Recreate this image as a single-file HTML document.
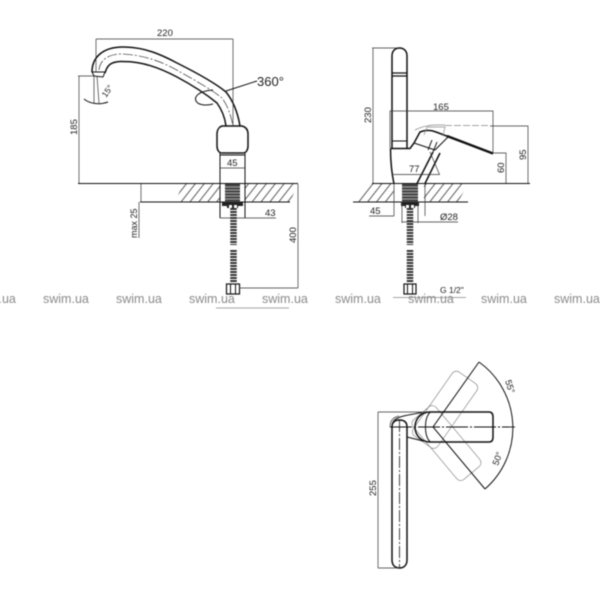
<!DOCTYPE html>
<html><head><meta charset="utf-8"><style>
html,body{margin:0;padding:0;background:#fff;width:600px;height:600px;overflow:hidden}
svg{display:block;filter:blur(0.45px)}
text{font-family:"Liberation Sans",sans-serif;fill:#222;font-size:9.5px}
.w{fill:#8a8a8a;font-size:12.5px}
.t{fill:none;stroke:#333;stroke-width:.7}
.k{fill:none;stroke:#111;stroke-width:1.5}
.m{fill:none;stroke:#111;stroke-width:1}
.g{fill:none;stroke:#888;stroke-width:.7}
.hose{fill:none;stroke:#333;stroke-width:6.5;stroke-dasharray:2 1}
</style></head><body>
<svg width="600" height="600" viewBox="0 0 600 600" xmlns="http://www.w3.org/2000/svg">
<defs>
<pattern id="hat" width="7" height="7" patternUnits="userSpaceOnUse" patternTransform="rotate(38)">
<line x1="1" y1="0" x2="1" y2="7" stroke="#333" stroke-width=".8"/>
</pattern>
</defs>

<!-- FRONT VIEW -->
<polygon points="183,184 298,184 290,202 175,202" fill="url(#hat)"/>
<polygon points="353,202 365,184 468,184 458,202" fill="url(#hat)"/>
<rect x="220" y="184" width="25" height="18" fill="#fff"/>
<rect x="394" y="184" width="30" height="18" fill="#fff"/>

<path class="k" d="M92,72 C92,58 102,47 123,47 C145,47 162,55 177,63 C195,72 214,82 226,92 C234,102 238,114 240,126"/>
<path class="k" d="M105,73 C107,66 110,62 120,61.500 C142,61 160,68 177,77 C192,85 206,94 217,103 C222,110 225,118 226,126"/>
<path class="t" stroke-dasharray="10 2 2 2" d="M99,70 C100,60 108,54 122,54 C146,55 165,63 182,73 C198,82 212,90 222,98 C228,106 231,116 233,126"/>
<path class="m" d="M92,72 L105,72 L103,77 L94,76 Z" stroke-width="1.3"/>
<path class="t" d="M96,39 V72 M233,39 V126"/>
<path class="t" d="M96,39 H233"/>
<text x="157" y="36">220</text>
<text x="257" y="86" style="font-size:13px">360°</text>
<path class="m" d="M226,91 L257,81"/>
<path class="m" d="M213,90 C198,91 194,97 196,101 C198,105 206,106 213,104"/>
<path class="t" d="M94,76 L94,103 M97,76 L99,103"/>
<path class="m" d="M84,99 C90,104 100,105 108,102"/>
<text x="0" y="0" transform="translate(106,98) rotate(-55)" style="font-size:8.500px">15°</text>

<path class="t" d="M78,76 H96 M79,76 V183"/>
<text transform="translate(77,135) rotate(-90)">185</text>

<path class="k" d="M222,126 H242 C246,127 248,130 248,134 V146 C248,150 246,153 243,153 H222 C219,153 217,150 217,146 V134 C217,130 219,127 222,126 Z"/>
<path class="m" d="M220,153 V184 M245,153 V184 M220,155 H245"/>
<path class="t" d="M220,168 H245"/>
<text x="227" y="166">45</text>

<path class="m" d="M78,183.500 H298" stroke-width="1.1"/>
<path class="m" d="M140,202 H290" stroke-width=".9"/>
<path class="t" d="M141,184 V202 M139,202 V238"/>
<text transform="translate(137,238) rotate(-90)" style="font-size:9px">max 25</text>

<path class="m" d="M220,184 V218 M245,184 V218"/>
<rect x="225" y="184" width="15" height="18" fill="#444"/>
<path stroke="#ccc" stroke-width=".8" d="M225,187 H240 M225,190 H240 M225,193 H240 M225,196 H240 M225,199 H240"/>
<rect x="222" y="202" width="21" height="4" fill="#222"/>
<rect x="227" y="204" width="11" height="4" fill="#222"/>
<rect x="229" y="205" width="3" height="3" fill="#fff"/><rect x="234" y="205" width="3" height="3" fill="#fff"/>
<path class="hose" d="M233.500,208 V245 M233.500,250 V283"/>
<path class="t" d="M220,218 H276"/>
<text x="265" y="216">43</text>
<rect x="226.500" y="284" width="13" height="10" fill="#fff" stroke="#111" stroke-width="1.2"/>
<path class="m" d="M230.500,284 V294 M235.500,284 V294"/>
<path class="t" d="M239,288 H298 M298,184 V288"/>
<text transform="translate(296,243) rotate(-90)">400</text>
<path class="g" d="M216,308 H289"/>

<!-- SIDE VIEW -->
<path class="k" d="M392,148 V56 C392,51 395,48 399.500,48 C404,48 407,51 407,56 V148"/>
<path d="M392,73 H407 M392.500,76 H406.500" stroke="#111" stroke-width="1.300" fill="none"/>
<path class="m" d="M392,141 H407"/>
<path class="t" d="M372,48 H398 M373,48 V184"/>
<text transform="translate(371,123) rotate(-90)">230</text>

<path class="k" d="M390.500,148.500 H410 L414,143 M390.500,148.500 C390.500,160 391.500,172 394,184"/>
<path class="k" d="M414,143 L420,132 C425,130 431,130 436,132 L493,153.500"/>
<path d="M447,136 L493,153.500" stroke="#111" stroke-width="2.400" fill="none"/>
<path class="m" d="M414,143 L435,150 L448,137"/>
<path class="k" d="M433,152 L417,183.500 M440,153 L425,183.500" stroke-width="1.300"/>
<path class="m" d="M432,140 L428,150 M437,142 L433,152"/>
<path class="g" d="M415,130 C421,127 428,125 436,125 H445"/>
<path class="g" stroke-dasharray="7 2" d="M445,125.500 H490"/>
<path class="g" d="M424,135 L427,127 H445 L443,136"/>

<path class="t" d="M390,148 V111 H493 V153"/>
<text x="433" y="110">165</text>
<path class="t" d="M490,126 H528 V184 M493,153 H506 V184"/>
<text transform="translate(526,160) rotate(-90)">95</text>
<text transform="translate(504,173) rotate(-90)">60</text>
<path class="t" d="M392,174.500 H439.500 L430,152"/>
<text x="409" y="172">77</text>

<path class="m" d="M372,183.500 H530" stroke-width="1.100"/>
<path class="m" d="M353,202 H468" stroke-width=".9"/>
<rect x="402" y="184" width="16" height="18" fill="#444"/>
<path stroke="#ccc" stroke-width=".8" d="M402,187 H418 M402,190 H418 M402,193 H418 M402,196 H418 M402,199 H418"/>
<rect x="401" y="202" width="18" height="4" fill="#222"/>
<rect x="405" y="204" width="10" height="4" fill="#222"/>
<rect x="406" y="205" width="3" height="3" fill="#fff"/><rect x="411" y="205" width="3" height="3" fill="#fff"/>
<path class="hose" d="M410,208 V245 M410,250 V283"/>
<path class="t" d="M394,184 V216 M425,184 V216 M369,216 H394"/>
<text x="370" y="214">45</text>
<path class="t" d="M402,202 V223 M418,202 V223 M402,222 H458"/>
<text x="440" y="220">Ø28</text>
<rect x="404" y="284" width="12" height="10" fill="#fff" stroke="#111" stroke-width="1.200"/>
<path class="m" d="M407.500,284 V294 M412.500,284 V294"/>
<text x="440" y="293" style="font-size:8.500px">G 1/2"</text>
<path class="g" d="M393,297.500 H466"/>

<!-- TOP VIEW -->
<g transform="translate(433,427)">
<g transform="rotate(-55)"><rect x="-18" y="-15" width="78" height="30" rx="5" fill="none" stroke="#777" stroke-width=".6"/></g>
<g transform="rotate(50)"><rect x="-18" y="-15" width="78" height="30" rx="5" fill="none" stroke="#777" stroke-width=".6"/></g>
</g>
<path class="m" d="M479,362 L433,427 L485,489" stroke-width="1.100"/>
<path class="m" d="M479,362 A81,81 0 0 1 485,489" stroke-width="1.100"/>
<path class="k" d="M430,412 H489 C492,412 493,414 493,417 V437 C493,440 492,442 489,442 H430 C421,442 415,435 415,427 C415,419 421,412 430,412 Z" stroke-width="1.600"/>
<path class="m" d="M430,412.500 C424,418 424,436 430,441.500"/>
<path class="m" d="M393,422 C396,417 402,416 422,412.500 M407,437 L423,441"/>
<path class="k" d="M392,427 C392,422 395,420 399.500,420 C404,420 407,422 407,427 V560 C407,565 404,568 399.500,568 C395,568 392,565 392,560 Z" stroke-width="1.600"/>
<path class="t" d="M390,427 C390,420 394,417 399,416"/>
<path stroke="#111" stroke-width=".8" fill="none" stroke-dasharray="12 2 2 2" d="M399.500,420 V568"/>
<path stroke="#111" stroke-width=".9" fill="none" stroke-dasharray="22 2 2 2" d="M390,427 H515"/>
<path class="t" d="M378,412 H425 M378,412 V568 M378,568 H400"/>
<text transform="translate(376,496) rotate(-90)">255</text>
<text transform="translate(505,381) rotate(72)" style="font-size:9px">55°</text>
<text transform="translate(498,466) rotate(-70)" style="font-size:9px">50°</text>

<!-- WATERMARK -->
<text class="w" x="-30" y="303">swim.ua</text>
<text class="w" x="43" y="303">swim.ua</text>
<text class="w" x="116" y="303">swim.ua</text>
<text class="w" x="189" y="303">swim.ua</text>
<text class="w" x="262" y="303">swim.ua</text>
<text class="w" x="335" y="303">swim.ua</text>
<text class="w" x="408" y="303">swim.ua</text>
<text class="w" x="481" y="303">swim.ua</text>
<text class="w" x="554" y="303">swim.ua</text>
</svg>
</body></html>
